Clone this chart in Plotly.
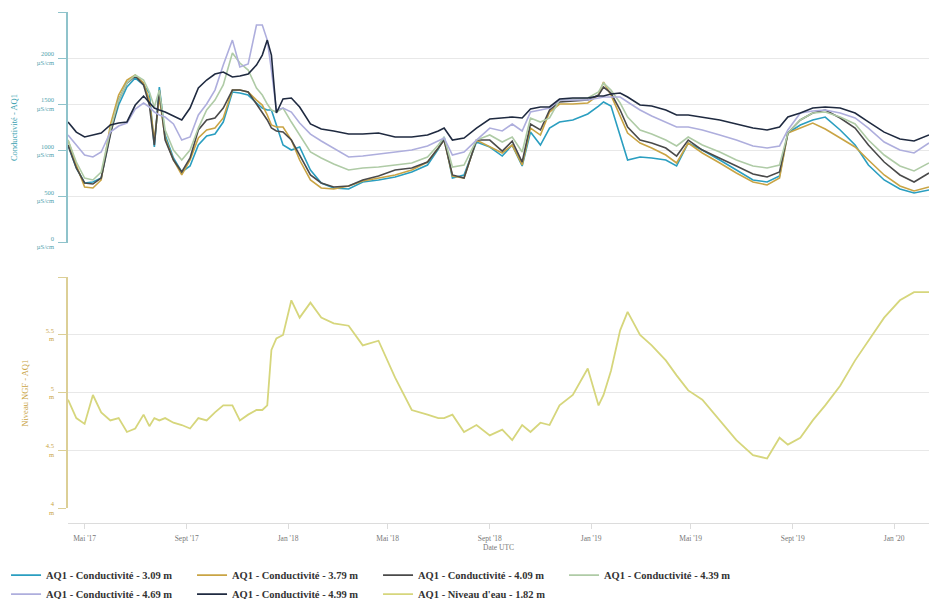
import plotly.graph_objects as go

dates = [
    "2017-04-11", "2017-04-21", "2017-05-01", "2017-05-11", "2017-05-21", "2017-06-01", "2017-06-11", "2017-06-21",
    "2017-07-01", "2017-07-11", "2017-07-18", "2017-07-24", "2017-07-30", "2017-08-06", "2017-08-16", "2017-08-26",
    "2017-09-05", "2017-09-15", "2017-09-25", "2017-10-05", "2017-10-15", "2017-10-26", "2017-11-04", "2017-11-14",
    "2017-11-24", "2017-12-01", "2017-12-07", "2017-12-12", "2017-12-18", "2017-12-26", "2018-01-05", "2018-01-15",
    "2018-01-28", "2018-02-10", "2018-02-25", "2018-03-15", "2018-04-01", "2018-04-20", "2018-05-10", "2018-05-30",
    "2018-06-18", "2018-07-01", "2018-07-08", "2018-07-18", "2018-08-01", "2018-08-16", "2018-09-01", "2018-09-16",
    "2018-09-28", "2018-10-10", "2018-10-20", "2018-11-01", "2018-11-12", "2018-11-24", "2018-12-10", "2018-12-28",
    "2019-01-10", "2019-01-16", "2019-01-25", "2019-02-05", "2019-02-14", "2019-03-01", "2019-03-15", "2019-04-01",
    "2019-04-14", "2019-04-28", "2019-05-15", "2019-06-05", "2019-06-25", "2019-07-15", "2019-08-01", "2019-08-16",
    "2019-08-26", "2019-09-10", "2019-09-25", "2019-10-10", "2019-10-28", "2019-11-15", "2019-12-01", "2019-12-20",
    "2020-01-08", "2020-01-25", "2020-02-12",
]

cond_309 = [
    1060, 812, 649, 660, 703, 1190, 1493, 1688, 1785, 1710, 1623, 1039, 1688, 1169, 920, 768,
    833, 1060, 1158, 1179, 1309, 1634, 1623, 1601, 1515, 1461, 1439, 1439, 1277, 1060, 1006, 1039,
    790, 649, 595, 584, 660, 682, 714, 768, 844, 1017, 1147, 703, 736, 1093, 1039, 941,
    1060, 833, 1201, 1060, 1244, 1309, 1331, 1396, 1482, 1526, 1482, 1168, 898, 931, 920, 898,
    833, 1082, 1006, 898, 790, 682, 660, 725, 1190, 1277, 1331, 1363, 1223, 1060, 844, 682,
    584, 541, 573,
]
cond_379 = [
    1114, 844, 606, 595, 682, 1277, 1601, 1764, 1818, 1731, 1547, 1114, 1580, 1136, 898, 736,
    898, 1136, 1223, 1244, 1353, 1655, 1655, 1634, 1547, 1493, 1385, 1277, 1255, 1255, 1114, 898,
    682, 595, 584, 617, 671, 703, 736, 790, 876, 1028, 1114, 725, 703, 1114, 1039, 974,
    1060, 844, 1244, 1168, 1417, 1504, 1504, 1515, 1601, 1742, 1601, 1385, 1190, 1082, 1028, 952,
    866, 1082, 974, 866, 757, 660, 628, 703, 1190, 1244, 1298, 1234, 1136, 1039, 898, 736,
    617, 563, 606,
]
cond_409 = [
    1060, 812, 649, 638, 703, 1169, 1547, 1731, 1807, 1710, 1493, 1060, 1655, 1114, 898, 768,
    920, 1223, 1331, 1353, 1461, 1655, 1655, 1634, 1504, 1407, 1331, 1244, 1212, 1201, 1114, 952,
    736, 649, 606, 617, 682, 725, 790, 812, 876, 1028, 1114, 736, 703, 1114, 1114, 995,
    1103, 876, 1287, 1223, 1439, 1526, 1536, 1547, 1601, 1688, 1623, 1439, 1255, 1114, 1082, 1028,
    941, 1114, 1006, 920, 833, 747, 714, 768, 1190, 1331, 1407, 1439, 1353, 1244, 1060, 876,
    736, 660, 757,
]
cond_439 = [
    1114, 876, 703, 682, 768, 1223, 1547, 1731, 1818, 1764, 1634, 1472, 1655, 1223, 1006, 898,
    1006, 1244, 1439, 1547, 1710, 2056, 1948, 1872, 1677, 1601, 1504, 1439, 1417, 1461, 1309, 1169,
    985, 920, 855, 790, 812, 822, 844, 866, 931, 1060, 1147, 822, 844, 1114, 1169, 1093,
    1147, 985, 1353, 1309, 1353, 1547, 1558, 1569, 1634, 1731, 1655, 1515, 1363, 1223, 1179, 1114,
    1050, 1147, 1060, 985, 898, 833, 812, 844, 1190, 1331, 1407, 1417, 1363, 1288, 1114, 952,
    833, 779, 866,
]
cond_469 = [
    1169, 1060, 952, 931, 985, 1201, 1266, 1298, 1450, 1515, 1472, 1417, 1385, 1363, 1288, 1114,
    1147, 1385, 1504, 1655, 1926, 2196, 1904, 1937, 2359, 2359, 2196, 1872, 1439, 1461, 1417, 1298,
    1179, 1104, 1028, 931, 941, 963, 985, 1006, 1050, 1104, 1136, 952, 985, 1114, 1244, 1212,
    1288, 1212, 1417, 1439, 1461, 1547, 1547, 1547, 1569, 1580, 1580, 1580, 1526, 1439, 1374, 1309,
    1255, 1255, 1223, 1169, 1114, 1050, 1028, 1050, 1223, 1407, 1428, 1439, 1407, 1353, 1244, 1093,
    1006, 974, 1082,
]
cond_499 = [
    1310, 1200, 1147, 1169, 1190, 1277, 1298, 1310, 1493, 1590, 1526, 1461, 1439, 1417, 1374, 1331,
    1461, 1677, 1764, 1829, 1850, 1796, 1807, 1829, 1926, 2034, 2196, 2034, 1407, 1558, 1569, 1472,
    1288, 1234, 1212, 1179, 1179, 1190, 1147, 1147, 1169, 1212, 1244, 1114, 1136, 1244, 1342, 1353,
    1363, 1353, 1450, 1472, 1472, 1558, 1569, 1569, 1590, 1590, 1612, 1623, 1580, 1493, 1482, 1439,
    1385, 1385, 1363, 1331, 1288, 1244, 1223, 1255, 1363, 1407, 1461, 1472, 1461, 1407, 1310, 1200,
    1125, 1104, 1169,
]
niveau = [
    4.94, 4.78, 4.73, 4.98, 4.83, 4.76, 4.78, 4.66, 4.69, 4.81, 4.71, 4.78, 4.76, 4.78, 4.74, 4.72,
    4.69, 4.78, 4.76, 4.83, 4.89, 4.89, 4.76, 4.81, 4.85, 4.85, 4.89, 5.37, 5.47, 5.50, 5.80, 5.65,
    5.78, 5.65, 5.60, 5.58, 5.41, 5.45, 5.13, 4.85, 4.81, 4.78, 4.78, 4.81, 4.66, 4.72, 4.63, 4.68,
    4.59, 4.72, 4.66, 4.74, 4.72, 4.89, 4.98, 5.21, 4.89, 4.98, 5.19, 5.54, 5.70, 5.50, 5.41, 5.28,
    5.15, 5.02, 4.94, 4.76, 4.59, 4.46, 4.43, 4.61, 4.55, 4.61, 4.76, 4.89, 5.06, 5.28, 5.45, 5.65,
    5.80, 5.87, 5.87,
]

series_names = [
    "AQ1 - Conductivité - 3.09 m",
    "AQ1 - Conductivité - 3.79 m",
    "AQ1 - Conductivité - 4.09 m",
    "AQ1 - Conductivité - 4.39 m",
    "AQ1 - Conductivité - 4.69 m",
    "AQ1 - Conductivité - 4.99 m",
]
niveau_name = "AQ1 - Niveau d'eau - 1.82 m"
series_colors = ["#2a9ec0", "#c9a444", "#4a4a4a", "#afcba6", "#aeaedd", "#1f2a40"]
niveau_color = "#d6d67c"

cond_ticks = [0, 500, 1000, 1500, 2000, 2500]
cond_ticktext = ["0<br>µS/cm", "500<br>µS/cm", "1000<br>µS/cm", "1500<br>µS/cm", "2000<br>µS/cm", ""]
niv_ticks = [4, 4.5, 5, 5.5, 6]
niv_ticktext = ["4<br>m", "4.5<br>m", "5<br>m", "5.5<br>m", ""]
x_tickvals = ["2017-05-01", "2017-09-01", "2018-01-01", "2018-05-01", "2018-09-01",
              "2019-01-01", "2019-05-01", "2019-09-01", "2020-01-01"]
x_ticktext = ["Mai '17", "Sept '17", "Jan '18", "Mai '18", "Sept '18",
              "Jan '19", "Mai '19", "Sept '19", "Jan '20"]
x_range = ["2017-04-11", "2020-02-12"]

fig = go.Figure()
all_cond = [cond_309, cond_379, cond_409, cond_439, cond_469, cond_499]
for name, vals, col in zip(series_names, all_cond, series_colors):
    fig.add_trace(go.Scatter(x=dates, y=vals, name=name, mode="lines",
                             line=dict(color=col, width=1.6), xaxis="x", yaxis="y"))
fig.add_trace(go.Scatter(x=dates, y=niveau, name=niveau_name, mode="lines",
                         line=dict(color=niveau_color, width=1.8), xaxis="x2", yaxis="y2"))

font_family = "Liberation Serif, serif"
fig.update_layout(
    width=929, height=599,
    margin=dict(l=68, r=0, t=12, b=76, autoexpand=False),
    paper_bgcolor="white", plot_bgcolor="white",
    font=dict(family=font_family, size=7, color="#666666"),
    showlegend=True,
    legend=dict(orientation="h", xref="container", yref="container",
                x=0.0065, y=0.064, xanchor="left", yanchor="top",
                entrywidth=141, entrywidthmode="pixels", itemwidth=30,
                font=dict(size=10.5, color="#333333", family=font_family, weight="bold"),
                tracegroupgap=0, bgcolor="rgba(0,0,0,0)"),
    xaxis=dict(domain=[0, 1], range=x_range, type="date", anchor="y",
               showticklabels=False, showgrid=False, showline=False, zeroline=False,
               tickvals=x_tickvals, ticks=""),
    yaxis=dict(domain=[0.548, 1], range=[0, 2500], anchor="x",
               tickvals=cond_ticks, ticktext=cond_ticktext,
               showgrid=True, gridcolor="#e8e8e8", gridwidth=1, zeroline=False,
               showline=True, linecolor="#8fc3cb", linewidth=1.5,
               ticks="outside", ticklen=8, tickcolor="#8fc3cb",
               ticklabelstandoff=3,
               tickfont=dict(size=6.5, color="#4f9fae")),
    xaxis2=dict(domain=[0, 1], range=x_range, type="date", anchor="free", position=0,
                tickvals=x_tickvals, ticktext=x_ticktext,
                showgrid=False, zeroline=False, showline=True, linecolor="#dcdcdc",
                ticks="outside", ticklen=5, tickcolor="#dcdcdc",
                ticklabelstandoff=3,
                tickfont=dict(size=7.5, color="#777777"),
                title=dict(text="Date UTC", font=dict(size=7.5, color="#777777"), standoff=2)),
    yaxis2=dict(domain=[0.029, 0.481], range=[4, 6], anchor="x2",
                tickvals=niv_ticks, ticktext=niv_ticktext,
                showgrid=True, gridcolor="#e8e8e8", gridwidth=1, zeroline=False,
                showline=True, linecolor="#dccf96", linewidth=1.5,
                ticks="outside", ticklen=8, tickcolor="#dccf96",
                ticklabelstandoff=3,
                tickfont=dict(size=6.5, color="#c9a444")),
    annotations=[
        dict(text="Conductivité - AQ1", xref="paper", yref="paper", x=-0.062, y=0.774,
             textangle=-90, showarrow=False, xanchor="center", yanchor="middle",
             font=dict(size=8.5, color="#3a9fb0")),
        dict(text="Niveau NGF - AQ1", xref="paper", yref="paper", x=-0.05, y=0.255,
             textangle=-90, showarrow=False, xanchor="center", yanchor="middle",
             font=dict(size=8.5, color="#c9a444")),
    ],
)

fig.write_html("out.html", config={"displayModeBar": False},
               post_script="document.body.style.margin='0';document.body.style.padding='0';")
